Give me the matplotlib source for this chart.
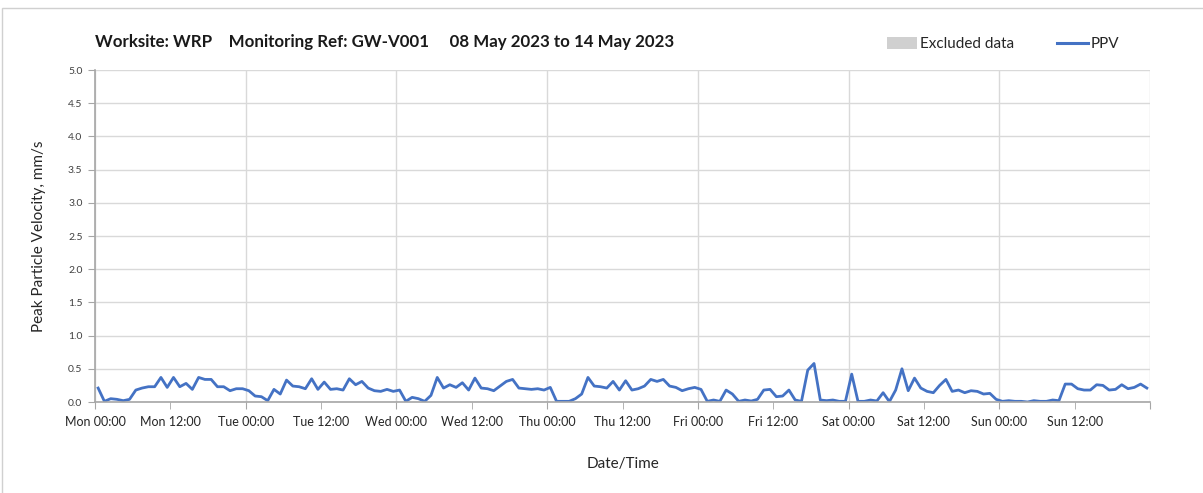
import pandas as pd
import matplotlib
matplotlib.use("Agg")
import matplotlib.pyplot as plt
import matplotlib.dates as mdates
from matplotlib.lines import Line2D
from matplotlib.patches import Patch, Rectangle

plt.rcParams['font.family'] = ['Lato', 'DejaVu Sans']

# hourly PPV readings, mm/s (first reading at 00:30 on Mon 08 May 2023)
start_time = "2023-05-08 00:30"
ppv = [
    0.21, 0.01, 0.05, 0.04, 0.02, 0.04, 0.18, 0.21, 0.23, 0.23, 0.37, 0.22,
    0.37, 0.23, 0.28, 0.19, 0.37, 0.34, 0.34, 0.23, 0.23, 0.17, 0.20, 0.20,
    0.17, 0.09, 0.08, 0.02, 0.19, 0.12, 0.33, 0.24, 0.23, 0.20, 0.35, 0.19,
    0.30, 0.19, 0.20, 0.18, 0.35, 0.26, 0.31, 0.21, 0.17, 0.16, 0.19, 0.16,
    0.18, 0.01, 0.07, 0.05, 0.01, 0.10, 0.37, 0.21, 0.26, 0.22, 0.29, 0.18,
    0.36, 0.21, 0.20, 0.17, 0.24, 0.31, 0.34, 0.21, 0.20, 0.19, 0.20, 0.18,
    0.22, 0.01, 0.01, 0.01, 0.05, 0.12, 0.37, 0.24, 0.23, 0.21, 0.31, 0.18,
    0.32, 0.18, 0.20, 0.24, 0.34, 0.31, 0.34, 0.24, 0.22, 0.17, 0.20, 0.22,
    0.19, 0.01, 0.03, 0.01, 0.18, 0.12, 0.01, 0.03, 0.015, 0.04, 0.18, 0.19,
    0.08, 0.09, 0.18, 0.03, 0.01, 0.48, 0.58, 0.03, 0.02, 0.03, 0.01, 0.01,
    0.42, 0.01, 0.01, 0.03, 0.015, 0.14, 0.005, 0.18, 0.50, 0.17, 0.36, 0.21,
    0.16, 0.14, 0.25, 0.34, 0.16, 0.18, 0.14, 0.17, 0.16, 0.12, 0.13, 0.04,
    0.01, 0.02, 0.01, 0.01, 0.0, 0.02, 0.01, 0.01, 0.03, 0.02, 0.27, 0.27,
    0.20, 0.18, 0.18, 0.26, 0.25, 0.18, 0.19, 0.26, 0.20, 0.22, 0.27, 0.21,
]
times = pd.date_range(start_time, periods=len(ppv), freq="h")

x_start = pd.Timestamp("2023-05-08 00:00")
x_end = pd.Timestamp("2023-05-15 00:00")
y_ticks = [0.0, 0.5, 1.0, 1.5, 2.0, 2.5, 3.0, 3.5, 4.0, 4.5, 5.0]

title = "Worksite: WRP    Monitoring Ref: GW-V001     08 May 2023 to 14 May 2023"

fig = plt.figure(figsize=(12.03, 4.93), dpi=100)
ax = fig.add_axes([95 / 1203, 1 - 402 / 493, (1150 - 95) / 1203, (402 - 70) / 493])

# outer frame
fig.patches.append(Rectangle((2 / 1203, -0.1), 1.2, 1 - 8 / 493 + 0.1,
                             transform=fig.transFigure, fill=False,
                             edgecolor="#d0d0d0", linewidth=1))

ax.plot(times, ppv, color="#4472C4", linewidth=2.0, solid_joinstyle="round")

ax.set_xlim(x_start, x_end)
ax.set_ylim(0, 5.0)
ax.set_yticks(y_ticks)
ax.yaxis.set_major_formatter(plt.FormatStrFormatter("%.1f"))

ax.xaxis.set_major_locator(mdates.DayLocator())
ax.xaxis.set_minor_locator(mdates.HourLocator(byhour=[12]))


def day_label(v, pos):
    d = mdates.num2date(v).replace(tzinfo=None)
    if d >= x_end.to_pydatetime():
        return ""
    return d.strftime("%a %H:%M")


ax.xaxis.set_major_formatter(plt.FuncFormatter(day_label))
ax.xaxis.set_minor_formatter(plt.FuncFormatter(day_label))

ax.grid(axis="x", which="major", color="#d9d9d9", linewidth=1)
ax.grid(axis="y", which="major", color="#d9d9d9", linewidth=1)
ax.set_axisbelow(True)

for s in ["top", "right"]:
    ax.spines[s].set_visible(False)
for s in ["left", "bottom"]:
    ax.spines[s].set_color("#a6a6a6")
    ax.spines[s].set_linewidth(1.2)

ax.tick_params(axis="x", which="both", length=5, color="#a6a6a6",
               labelsize=9, labelcolor="#262626", pad=5)
ax.tick_params(axis="y", length=5, color="#a6a6a6", labelsize=7.5,
               labelcolor="#404040", pad=4)

ax.set_ylabel("Peak Particle Velocity, mm/s", fontsize=11, color="#262626", labelpad=16)
ax.set_xlabel("Date/Time", fontsize=11, color="#262626", labelpad=21)

fig.text(95 / 1203, 1 - 42 / 493, title, fontsize=12.2, fontweight="bold",
         color="#1a1a1a", va="center", ha="left")

handles = [Patch(facecolor="#d0d0d0", edgecolor="none", label="Excluded data"),
           Line2D([], [], color="#4472C4", linewidth=2.2, label="PPV")]
fig.legend(handles=handles, loc="center", bbox_to_anchor=(1003 / 1203, 1 - 44 / 493),
           ncol=2, frameon=False, fontsize=11, handlelength=2.0, handleheight=0.8,
           handletextpad=0.2, columnspacing=2.8, labelcolor="#262626")

fig.savefig("out.png", dpi=100)
